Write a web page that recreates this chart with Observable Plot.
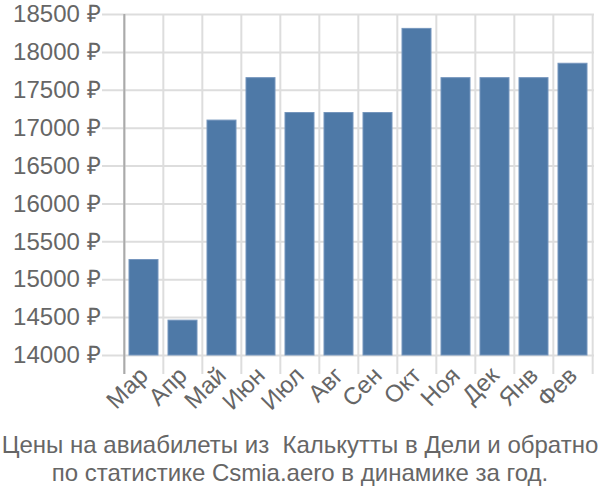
<!DOCTYPE html>
<html>
<head>
<meta charset="utf-8">
<script src="https://cdn.jsdelivr.net/npm/d3@7"></script>
<script src="https://cdn.jsdelivr.net/npm/@observablehq/plot@0.6"></script>
<style>
  html, body { margin: 0; padding: 0; background: #fff; }
  #chart { width: 600px; height: 425px; }
  .caption { width: 600px; text-align: center; font-family: "Liberation Sans", Arial, sans-serif; font-size: 24px; line-height: 28px; color: #666; margin-top: 6px; white-space: nowrap; }
</style>
</head>
<body>
<div id="chart"></div>
<script>
const months = ["Мар", "Апр", "Май", "Июн", "Июл", "Авг", "Сен", "Окт", "Ноя", "Дек", "Янв", "Фев"];
const prices = [15260, 14460, 17100, 17660, 17200, 17200, 17200, 18310, 17660, 17660, 17660, 17850];
const yTicks = [14000, 14500, 15000, 15500, 16000, 16500, 17000, 17500, 18000, 18500];
const captionLines = ["Цены на авиабилеты из  Калькутты в Дели и обратно", "по статистике Csmia.aero в динамике за год."];

const data = months.map((m, i) => ({month: m, price: prices[i]}));

const W = 600, ML = 122, MR = 6;
const step = (W - ML - MR) / months.length;

const chart = Plot.plot({
  width: W,
  height: 425,
  marginTop: 14,
  marginBottom: 70,
  marginLeft: ML,
  marginRight: MR,
  style: {fontFamily: "'Liberation Sans', Arial, sans-serif", fontSize: "24px", color: "#666", background: "#fff", overflow: "visible"},
  x: {domain: months, paddingInner: 0.25, paddingOuter: 0.125, label: null},
  y: {domain: [14000, 18500], label: null},
  marks: [
    Plot.ruleY(yTicks, {y: d => d, stroke: "#ddd", strokeWidth: 2, insetLeft: -20}),
    Plot.ruleX(months, {x: d => d, dx: -step / 2, y1: 18500, y2: 14000, stroke: "#ddd", strokeWidth: 2, insetBottom: -19}),
    Plot.ruleX([months[months.length - 1]], {x: d => d, dx: step / 2, y1: 18500, y2: 14000, stroke: "#ddd", strokeWidth: 2, insetBottom: -19}),
    Plot.ruleX([months[0]], {x: d => d, dx: -step / 2, y1: 18500, y2: 14000, stroke: "#aaa", strokeWidth: 2, insetBottom: -19}),
    Plot.barY(data, {x: "month", y1: 14000, y2: "price", fill: "#4e79a7", stroke: "#7596bd", strokeWidth: 1}),
    Plot.axisY({ticks: yTicks, tickSize: 0, tickPadding: 22, tickFormat: d => d + " ₽", fill: "#666", fontSize: 24}),
    Plot.axisX({tickSize: 0, tickPadding: 16, tickRotate: -45, fill: "#666", fontSize: 24})
  ]
});
document.getElementById("chart").appendChild(chart);

const cap = document.createElement("div");
cap.className = "caption";
cap.innerHTML = captionLines.map(l => l.replace(/  /g, " &nbsp;")).join("<br>");
document.body.appendChild(cap);
</script>
</body>
</html>
